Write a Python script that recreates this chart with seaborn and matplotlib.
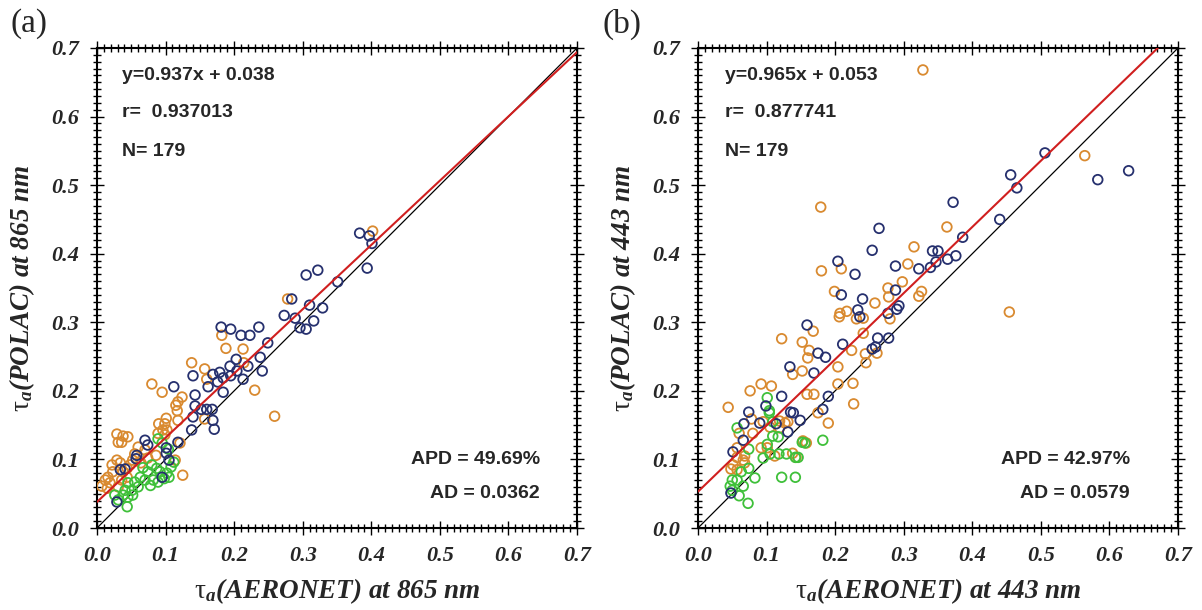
import numpy as np
import pandas as pd
import matplotlib
matplotlib.use("Agg")
import matplotlib.pyplot as plt
import seaborn as sns
from matplotlib.ticker import MultipleLocator, FormatStrFormatter

# ---- AOD at 865 nm: AERONET (x) vs POLAC (y), three point groups ----
a_navy_x = [0.383, 0.397, 0.401, 0.394, 0.305, 0.322, 0.351, 0.284, 0.310, 0.273,
            0.289, 0.329, 0.316, 0.296, 0.305, 0.181, 0.195, 0.210, 0.223, 0.236,
            0.140, 0.112, 0.143, 0.203, 0.194, 0.179, 0.169, 0.220, 0.204, 0.195,
            0.176, 0.184, 0.213, 0.238, 0.241, 0.249, 0.162, 0.184, 0.143, 0.152,
            0.160, 0.168, 0.169, 0.171, 0.138, 0.140, 0.070, 0.074, 0.101, 0.101,
            0.058, 0.057, 0.034, 0.041, 0.105, 0.118, 0.095, 0.029]
a_navy_y = [0.430, 0.426, 0.415, 0.379, 0.369, 0.376, 0.359, 0.334, 0.325, 0.310,
            0.306, 0.321, 0.302, 0.292, 0.290, 0.293, 0.290, 0.281, 0.281, 0.293,
            0.222, 0.206, 0.194, 0.246, 0.236, 0.227, 0.224, 0.236, 0.229, 0.222,
            0.213, 0.219, 0.217, 0.249, 0.229, 0.270, 0.206, 0.198, 0.178, 0.173,
            0.173, 0.173, 0.157, 0.144, 0.143, 0.162, 0.128, 0.121, 0.117, 0.109,
            0.106, 0.101, 0.085, 0.086, 0.099, 0.125, 0.074, 0.038]

a_orange_x = [0.402, 0.278, 0.182, 0.138, 0.157, 0.188, 0.213, 0.214, 0.230, 0.095,
              0.080, 0.124, 0.118, 0.115, 0.117, 0.101, 0.118, 0.090, 0.099, 0.096,
              0.102, 0.157, 0.029, 0.038, 0.045, 0.031, 0.036, 0.089, 0.099, 0.121,
              0.060, 0.070, 0.086, 0.074, 0.055, 0.064, 0.052, 0.048, 0.029, 0.034,
              0.022, 0.023, 0.016, 0.012, 0.007, 0.019, 0.015, 0.044, 0.038, 0.044,
              0.036, 0.114, 0.125, 0.259, 0.031, 0.160]
a_orange_y = [0.433, 0.334, 0.281, 0.241, 0.232, 0.262, 0.261, 0.241, 0.201, 0.198,
              0.210, 0.191, 0.184, 0.179, 0.171, 0.160, 0.157, 0.152, 0.152, 0.143,
              0.143, 0.159, 0.137, 0.134, 0.133, 0.125, 0.125, 0.138, 0.136, 0.124,
              0.118, 0.114, 0.106, 0.102, 0.108, 0.095, 0.099, 0.092, 0.099, 0.095,
              0.092, 0.082, 0.074, 0.070, 0.061, 0.066, 0.058, 0.087, 0.082, 0.074,
              0.070, 0.099, 0.077, 0.163, 0.060, 0.217]

a_green_x = [0.089, 0.095, 0.080, 0.087, 0.074, 0.092, 0.102, 0.105, 0.063, 0.070,
             0.082, 0.089, 0.055, 0.045, 0.060, 0.051, 0.041, 0.038, 0.045, 0.052,
             0.026, 0.031, 0.044, 0.104, 0.108, 0.067, 0.078, 0.098, 0.112]
a_green_y = [0.130, 0.124, 0.092, 0.087, 0.082, 0.082, 0.080, 0.074, 0.074, 0.070,
             0.070, 0.067, 0.067, 0.066, 0.060, 0.055, 0.055, 0.048, 0.045, 0.048,
             0.048, 0.041, 0.031, 0.115, 0.089, 0.088, 0.062, 0.072, 0.096]

# ---- AOD at 443 nm ----
b_navy_x = [0.506, 0.456, 0.465, 0.440, 0.372, 0.386, 0.264, 0.254, 0.342, 0.350,
            0.364, 0.376, 0.347, 0.339, 0.322, 0.288, 0.204, 0.229, 0.288, 0.209,
            0.240, 0.293, 0.290, 0.233, 0.236, 0.277, 0.159, 0.262, 0.278, 0.211,
            0.175, 0.186, 0.254, 0.259, 0.169, 0.190, 0.134, 0.122, 0.099, 0.074,
            0.135, 0.139, 0.067, 0.090, 0.114, 0.131, 0.066, 0.051, 0.048, 0.182,
            0.149, 0.628, 0.583]
b_navy_y = [0.547, 0.515, 0.496, 0.450, 0.475, 0.424, 0.437, 0.405, 0.404, 0.404,
            0.392, 0.397, 0.388, 0.380, 0.378, 0.382, 0.389, 0.370, 0.347, 0.340,
            0.334, 0.324, 0.319, 0.318, 0.308, 0.313, 0.296, 0.277, 0.277, 0.268,
            0.255, 0.249, 0.261, 0.264, 0.226, 0.192, 0.235, 0.192, 0.178, 0.169,
            0.169, 0.168, 0.152, 0.153, 0.152, 0.140, 0.128, 0.111, 0.051, 0.173,
            0.157, 0.521, 0.508]

b_orange_x = [0.328, 0.454, 0.363, 0.179, 0.315, 0.306, 0.209, 0.180, 0.298, 0.277,
              0.278, 0.326, 0.322, 0.199, 0.258, 0.217, 0.207, 0.206, 0.231, 0.241,
              0.280, 0.168, 0.241, 0.152, 0.224, 0.162, 0.160, 0.244, 0.261, 0.245,
              0.204, 0.152, 0.204, 0.226, 0.159, 0.169, 0.122, 0.138, 0.092, 0.107,
              0.076, 0.044, 0.078, 0.060, 0.080, 0.095, 0.119, 0.127, 0.131, 0.119,
              0.105, 0.092, 0.101, 0.057, 0.068, 0.057, 0.153, 0.138, 0.143, 0.112,
              0.066, 0.068, 0.051, 0.048, 0.057, 0.227, 0.190, 0.175, 0.158, 0.564]
b_orange_y = [0.668, 0.315, 0.439, 0.468, 0.410, 0.385, 0.378, 0.375, 0.359, 0.350,
              0.337, 0.345, 0.338, 0.345, 0.328, 0.316, 0.313, 0.308, 0.305, 0.306,
              0.305, 0.287, 0.284, 0.271, 0.259, 0.259, 0.248, 0.254, 0.255, 0.241,
              0.235, 0.229, 0.210, 0.211, 0.195, 0.195, 0.276, 0.224, 0.210, 0.207,
              0.200, 0.176, 0.159, 0.138, 0.138, 0.155, 0.156, 0.153, 0.155, 0.146,
              0.147, 0.117, 0.117, 0.117, 0.105, 0.103, 0.127, 0.109, 0.103, 0.105,
              0.099, 0.095, 0.092, 0.086, 0.085, 0.181, 0.153, 0.168, 0.124, 0.543]

b_green_x = [0.101, 0.104, 0.104, 0.057, 0.109, 0.109, 0.117, 0.101, 0.074, 0.152,
             0.156, 0.129, 0.142, 0.146, 0.118, 0.105, 0.095, 0.074, 0.063, 0.083,
             0.050, 0.047, 0.057, 0.050, 0.066, 0.060, 0.073, 0.122, 0.142, 0.182]
b_green_y = [0.190, 0.171, 0.168, 0.146, 0.155, 0.134, 0.133, 0.122, 0.115, 0.125,
             0.124, 0.108, 0.103, 0.103, 0.108, 0.108, 0.102, 0.087, 0.082, 0.073,
             0.070, 0.061, 0.070, 0.055, 0.061, 0.047, 0.036, 0.074, 0.074, 0.128]

# fit statistics shown in each panel
fit_slope = [0.937, 0.965]
fit_intercept = [0.038, 0.053]
fit_r = ["0.937013", "0.877741"]
n_points = [179, 179]
apd = ["49.69%", "42.97%"]
ad = ["0.0362", "0.0579"]
wavelengths = [865, 443]
panel_tags = ["(a)", "(b)"]

colors = {"navy": "#26306e", "orange": "#d98a30", "green": "#3fc03a"}

sns.set_theme(style="white")
plt.rcParams["font.family"] = ["Liberation Serif", "DejaVu Serif"]
plt.rcParams["mathtext.fontset"] = "custom"
plt.rcParams["mathtext.it"] = "Liberation Serif:italic:bold"
plt.rcParams["mathtext.rm"] = "Liberation Serif"

fig = plt.figure(figsize=(12.02, 6.10), dpi=100)
ax_a = fig.add_axes([97 / 1202, 1 - 528 / 610, 480 / 1202, 480 / 610])
ax_b = fig.add_axes([698 / 1202, 1 - 528 / 610, 480 / 1202, 480 / 610])

panels = [
    (ax_a, {"navy": (a_navy_x, a_navy_y), "orange": (a_orange_x, a_orange_y),
            "green": (a_green_x, a_green_y)}),
    (ax_b, {"navy": (b_navy_x, b_navy_y), "orange": (b_orange_x, b_orange_y),
            "green": (b_green_x, b_green_y)}),
]

for i, (ax, groups) in enumerate(panels):
    rows = []
    for name in ["orange", "green", "navy"]:
        xs, ys = groups[name]
        rows.append(pd.DataFrame({"x": xs, "y": ys, "group": name}))
    df = pd.concat(rows, ignore_index=True)
    for name in ["orange", "green", "navy"]:
        sub = df[df["group"] == name]
        sns.scatterplot(data=sub, x="x", y="y", ax=ax, color=colors[name],
                        s=48, linewidth=0, legend=False, zorder=3)
        coll = ax.collections[-1]
        coll.set_edgecolor(colors[name])
        coll.set_facecolor("none")
        coll.set_linewidth(1.3)

    line_x = np.array([0.0, 0.7])
    ax.plot(line_x, line_x, color="black", lw=0.9, zorder=2)
    ax.plot(line_x, fit_slope[i] * line_x + fit_intercept[i], color="#d01f1f",
            lw=1.5, zorder=4)

    ax.set_xlim(0, 0.7)
    ax.set_ylim(0, 0.7)
    ax.xaxis.set_major_locator(MultipleLocator(0.1))
    ax.yaxis.set_major_locator(MultipleLocator(0.1))
    ax.xaxis.set_minor_locator(MultipleLocator(0.01))
    ax.yaxis.set_minor_locator(MultipleLocator(0.01))
    ax.xaxis.set_major_formatter(FormatStrFormatter("%.1f"))
    ax.yaxis.set_major_formatter(FormatStrFormatter("%.1f"))
    ax.tick_params(which="both", direction="inout", top=True, right=True,
                   bottom=True, left=True, color="black", width=1.0)
    ax.tick_params(which="major", length=10, pad=8)
    ax.tick_params(which="minor", length=6)
    for lab in ax.get_xticklabels() + ax.get_yticklabels():
        lab.set_fontsize(16)
        lab.set_fontweight("bold")
        lab.set_fontstyle("italic")
    for sp in ax.spines.values():
        sp.set_visible(True)
        sp.set_color("black")
        sp.set_linewidth(1.5)
    ax.grid(False)

    wl = wavelengths[i]
    ax.set_xlabel(r"$\mathrm{\tau}_{a}$(AERONET) at %d nm" % wl, fontsize=19.5,
                  fontweight="bold", fontstyle="italic", labelpad=7)
    ax.set_ylabel(r"$\mathrm{\tau}_{a}$(POLAC) at %d nm" % wl, fontsize=19.5,
                  fontweight="bold", fontstyle="italic", labelpad=10)

    txt = dict(family="Liberation Sans", fontsize=14, fontweight="bold",
               transform=ax.transAxes, zorder=5)
    lx = 0.053 if i == 0 else 0.056
    ax.text(lx, 0.943, "y=%.3fx + %.3f" % (fit_slope[i], fit_intercept[i]),
            va="center", ha="left", **txt)
    ax.text(lx, 0.865, "r=  " + fit_r[i], va="center", ha="left", **txt)
    ax.text(lx, 0.785, "N= %d" % n_points[i], va="center", ha="left", **txt)
    rx = 0.923 if i == 0 else 0.900
    ax.text(rx, 0.142, "APD = " + apd[i], va="center", ha="right", **txt)
    ax.text(rx, 0.071, "AD = " + ad[i], va="center", ha="right", **txt)

fig.text(10 / 1202, 1 - 24 / 610, panel_tags[0], fontsize=24, va="center", ha="left")
fig.text(602 / 1202, 1 - 24 / 610, panel_tags[1], fontsize=24, va="center", ha="left")

fig.savefig("out.png", dpi=100, facecolor="white")
